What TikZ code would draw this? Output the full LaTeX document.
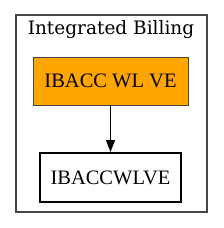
\documentclass[tikz,border=0pt]{standalone}
\usepackage{fontspec}
\setmainfont{Liberation Serif}
\newfontfamily\titlefont{DejaVu Serif}
\usetikzlibrary{positioning,arrows.meta}
\definecolor{BillOrange}{RGB}{255,165,0}
\definecolor{FrameGray}{RGB}{70,70,70}
\tikzset{
  link/.style={-{Triangle[length=12pt,width=9pt]},line width=1pt,draw=black},
  cluster/.style={draw=FrameGray,line width=1.1pt,minimum width=191pt,minimum height=197pt},
  orangebox/.style={draw=FrameGray,fill=BillOrange,line width=0.8pt,
    minimum width=155pt,minimum height=48pt,font=\fontsize{20.5}{24}\selectfont},
  plainbox/.style={draw=black,fill=white,line width=2pt,
    minimum width=141pt,minimum height=49pt,font=\fontsize{20.5}{24}\selectfont}
}
\begin{document}
\begin{tikzpicture}[x=1pt,y=-1pt]
  \useasboundingbox (0,0) rectangle (223,228);
  \node[cluster] (billing) at (111.5,113.5) {};
  \node[font=\titlefont\fontsize{18.5}{22}\selectfont] (title) at (111,30) {Integrated Billing};
  \node[orangebox] (ibaccwlve) at (110.5,81) {IBACC WL VE};
  \node[plainbox] (ibacc) at (110.5,177.5) {IBACCWLVE};
  \draw[link] (ibaccwlve) -- (ibacc);
\end{tikzpicture}
\end{document}
